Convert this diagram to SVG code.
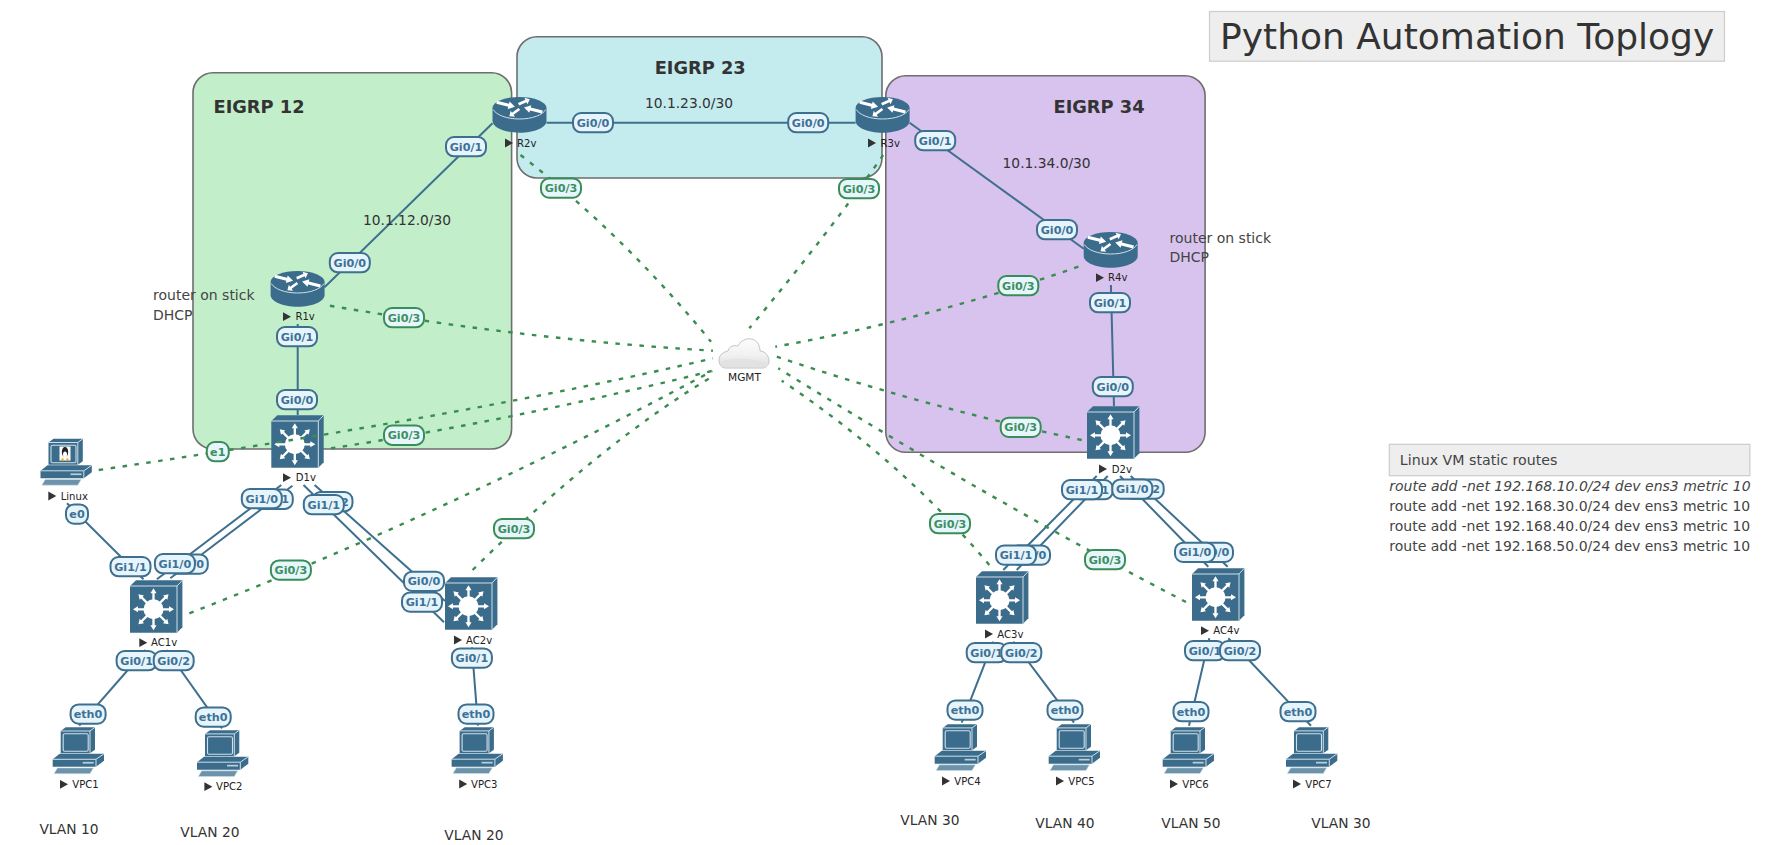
<svg xmlns="http://www.w3.org/2000/svg" width="1790" height="845" viewBox="0 0 1790 845">
<style>
text{font-family:"DejaVu Sans",sans-serif;fill:#333}
.region{stroke:#6e6e6e;stroke-width:1.6}
.solid{fill:none;stroke:#3e6f8e;stroke-width:2}
.dash{fill:none;stroke:#3a8c50;stroke-width:2.4;stroke-dasharray:4.5 7.5}
.pill{fill:#e6f4fc;stroke:#3e6f8e;stroke-width:2}
.pill.g{fill:#e6f6fb;stroke:#3a8c58}
.pt{font-size:11.2px;font-weight:bold;fill:#3e7196;text-anchor:middle}
.pt.g{fill:#3c8f62}
.nl{font-size:10.1px;fill:#222}
.t14{font-size:13.8px}
.t{font-size:14px;fill:#444}
.rt{font-size:17.8px;font-weight:bold}
.box{fill:#eee;stroke:#ccc;stroke-width:1.2}
.ic{fill:#3b6c8b}
.li{fill:none;stroke:#cfe0ea;stroke-width:1}
.w{fill:#fff}
</style>
<defs>
<linearGradient id="cg" x1="0" y1="0" x2="0" y2="1"><stop offset="0" stop-color="#fdfdfd"/><stop offset=".55" stop-color="#f1f1f1"/><stop offset="1" stop-color="#dcdcdc"/></linearGradient>
<path id="tri" d="M0,-4.4V4.4L8,0Z" fill="#333"/>
<path id="ar" d="M-7,-1.3H2.5V-3.4L7.5,0L2.5,3.4V1.3H-7Z" fill="#fff"/>
<g id="router">
<path class="ic" d="M0,11.5V24C0,30.5 12,35.7 27,35.7S54,30.5 54,24V11.5Z"/>
<ellipse class="ic" cx="27" cy="11" rx="27" ry="11"/>
<path class="li" d="M0.6,12.5C4,18 14,22 27,22S50,18 53.4,12.5"/>
<use href="#ar" transform="translate(13,7.5) rotate(14) scale(1.3,1.15)"/>
<use href="#ar" transform="translate(31.5,4.8) rotate(-24) scale(.85,1.05)"/>
<use href="#ar" transform="translate(41,12.8) rotate(194) scale(1.3,1.15)"/>
<use href="#ar" transform="translate(22,15.5) rotate(144) scale(.85,1.05)"/>
</g>
<g id="switch">
<path class="ic" d="M0,5.7L6,0H52.4V47L47,52.4H0Z"/>
<path class="li" d="M0,5.7H47V52.4M47,5.7L52.4,0"/>
<circle class="w" cx="23.5" cy="29" r="10"/>
<use href="#ar" transform="translate(36.5,29) scale(1,.9)"/>
<use href="#ar" transform="translate(10.5,29) rotate(180) scale(1,.9)"/>
<use href="#ar" transform="translate(23.5,15.5) rotate(-90) scale(1,.9)"/>
<use href="#ar" transform="translate(23.5,42.5) rotate(90) scale(1,.9)"/>
<use href="#ar" transform="translate(33.5,19) rotate(-45) scale(.95,.9)"/>
<use href="#ar" transform="translate(13.5,19) rotate(-135) scale(.95,.9)"/>
<use href="#ar" transform="translate(33.5,39) rotate(45) scale(.95,.9)"/>
<use href="#ar" transform="translate(13.5,39) rotate(135) scale(.95,.9)"/>
</g>
<g id="pc">
<path class="ic" d="M8,3.7L13,0H42.3V22.5L37.3,26H8Z"/>
<path class="li" d="M8,3.7H37.3V26M37.3,3.7L42.3,0"/>
<rect x="10.5" y="6.5" width="25" height="17.5" rx="1.5" fill="#3b6c8b" stroke="#cfe0ea" stroke-width="1.1"/>
<path class="ic" d="M0,32L7,26.5H51.3V33.5L43.3,39.5H0Z"/>
<path class="li" d="M0,32H43.3V39.5M43.3,32L51.3,26.5"/>
<rect x="30" y="34.6" width="11" height="1.7" fill="#b9cfdc"/>
<path d="M1.3,46.4L4.7,40.6H40.7L37.3,46.4Z" fill="#6d93aa" stroke="#cfe0ea" stroke-width=".6"/>
</g>
</defs>

<g id="regions">
<rect id="eigrp12" class="region" x="193" y="72.8" width="318.6" height="376.2" rx="20" fill="#c2efca"/>
<rect id="eigrp23" class="region" x="517" y="36.8" width="365" height="141.2" rx="20" fill="#c4ebee"/>
<rect id="eigrp34" class="region" x="885.8" y="75.8" width="319.3" height="376.5" rx="20" fill="#d8c2ee"/>
</g>

<g id="R1v"><use href="#router" x="270.6" y="271"/><use href="#tri" x="283" y="316.7"/><text class="nl" x="295.4" y="320.2">R1v</text></g>
<g id="R2v"><use href="#router" x="492.5" y="97"/><use href="#tri" x="505" y="143"/><text class="nl" x="517" y="146.5">R2v</text></g>
<g id="R3v"><use href="#router" x="855.6" y="97"/><use href="#tri" x="868" y="143"/><text class="nl" x="880.5" y="146.5">R3v</text></g>
<g id="R4v"><use href="#router" x="1083.7" y="232"/><use href="#tri" x="1096" y="277.7"/><text class="nl" x="1108" y="281.2">R4v</text></g>
<g id="D1v"><use href="#switch" x="271.3" y="415.3"/><use href="#tri" x="283" y="477.7"/><text class="nl" x="295.7" y="481.2">D1v</text></g>
<g id="D2v"><use href="#switch" x="1087" y="406.3"/><use href="#tri" x="1099" y="469"/><text class="nl" x="1111.7" y="472.5">D2v</text></g>
<g id="AC1v"><use href="#switch" x="130" y="580.3"/><use href="#tri" x="139.3" y="642.7"/><text class="nl" x="151" y="646.2">AC1v</text></g>
<g id="AC2v"><use href="#switch" x="445" y="577.3"/><use href="#tri" x="454" y="640"/><text class="nl" x="466" y="643.5">AC2v</text></g>
<g id="AC3v"><use href="#switch" x="976" y="571.3"/><use href="#tri" x="985" y="634"/><text class="nl" x="997.3" y="637.5">AC3v</text></g>
<g id="AC4v"><use href="#switch" x="1192" y="568.3"/><use href="#tri" x="1201" y="630.7"/><text class="nl" x="1213.3" y="634.2">AC4v</text></g>
<g id="Linux"><use href="#pc" x="40.5" y="438.8"/>
<rect x="59.5" y="446.5" width="11" height="14" fill="#fff"/>
<ellipse cx="65" cy="452" rx="3.2" ry="5" fill="#222"/><ellipse cx="65" cy="454.5" rx="2" ry="3" fill="#fff"/>
<path d="M60.5,460.5L63,457.5L64,460.5ZM69.5,460.5L67,457.5L66,460.5Z" fill="#f0b000"/>
<use href="#tri" x="48.3" y="496"/><text class="nl" x="60.7" y="499.5">Linux</text></g>
<g id="VPC1"><use href="#pc" x="52.7" y="727.3"/><use href="#tri" x="60" y="784.3"/><text class="nl" x="72.3" y="787.8">VPC1</text></g>
<g id="VPC2"><use href="#pc" x="197" y="730.2"/><use href="#tri" x="204.4" y="786.7"/><text class="nl" x="216" y="790.2">VPC2</text></g>
<g id="VPC3"><use href="#pc" x="451.6" y="727.2"/><use href="#tri" x="459.2" y="784"/><text class="nl" x="471" y="787.5">VPC3</text></g>
<g id="VPC4"><use href="#pc" x="934.7" y="724.2"/><use href="#tri" x="942" y="781"/><text class="nl" x="954.3" y="784.5">VPC4</text></g>
<g id="VPC5"><use href="#pc" x="1048.7" y="724.2"/><use href="#tri" x="1056" y="781"/><text class="nl" x="1068.3" y="784.5">VPC5</text></g>
<g id="VPC6"><use href="#pc" x="1162.7" y="727.2"/><use href="#tri" x="1170" y="784"/><text class="nl" x="1182.3" y="787.5">VPC6</text></g>
<g id="VPC7"><use href="#pc" x="1286" y="727.2"/><use href="#tri" x="1293" y="784"/><text class="nl" x="1305.3" y="787.5">VPC7</text></g>
<g id="MGMT"><g transform="translate(719,338)">
<path d="M7,30C2,30 0,26 0,22C0,17 4,14 9,13C10,8 15,7 19,8C22,2 28,0 32,1C38,2 41,7 41,13C46,13 50,18 50,23C50,27 47,30 44,30Z" fill="url(#cg)" stroke="#c4c4c4" stroke-width="1"/>
<path d="M1,24C14,19 36,20 49.5,26C49,28 47,29.5 44,29.5H7C3,29.5 1.5,27 1,24Z" fill="#e2e2e2"/>
</g><text x="744.5" y="380.5" font-size="10.6" text-anchor="middle" style="fill:#222">MGMT</text></g>

<g id="connectors">
<path class="solid" d="M324.5,287.3L492.5,123.3"/>
<path class="solid" d="M546.5,122.7H855.6"/>
<path class="solid" d="M909.6,122.7L1083.7,248.7"/>
<path class="solid" d="M297.7,324V415"/>
<path class="solid" d="M1110.9,285L1114,406"/>
<path class="solid" d="M281.3,485L156.9,579.3"/>
<path class="solid" d="M292.4,485.7L170.3,578.3"/>
<path class="solid" d="M303.5,485L444,622.3"/>
<path class="solid" d="M314.6,485L445,601"/>
<path class="solid" d="M67,503.3L143.5,579.3"/>
<path class="solid" d="M145.4,650L79.2,725.7"/>
<path class="solid" d="M166.5,650L222,728.3"/>
<path class="solid" d="M471.9,647.3L478,725.7"/>
<path class="solid" d="M1096.7,476L1003.3,570"/>
<path class="solid" d="M1107.7,476L1016.7,570"/>
<path class="solid" d="M1120,476L1208.3,566.7"/>
<path class="solid" d="M1130.7,476L1227.7,566.7"/>
<path class="solid" d="M993.3,641.7L961.7,722.7"/>
<path class="solid" d="M1013.3,641.7L1074,722.7"/>
<path class="solid" d="M1209.3,638.3L1189,725.7"/>
<path class="solid" d="M1228.3,638.3L1311,725.7"/>
<path class="dash" d="M520.5,155Q625,236 711,341.7"/>
<path class="dash" d="M883.2,155Q828,234 749.3,328.3"/>
<path class="dash" d="M329.9,305.7Q530,340 712.9,350.7"/>
<path class="dash" d="M1078.4,266.7Q929,319 775.3,346.7"/>
<path class="dash" d="M1081.7,440Q925,407 776.8,356.7"/>
<path class="dash" d="M1186,602Q995,503 778.3,368.3"/>
<path class="dash" d="M989.3,565Q904,463 781.7,380.7"/>
<path class="dash" d="M98.7,470Q477,414 712.9,358.3"/>
<path class="dash" d="M331,448.3Q505,422 712.9,370.7"/>
<path class="dash" d="M189.4,613.3Q450,512 712.3,371"/>
<path class="dash" d="M472.6,570Q601,443 712,376.7"/>
</g>

<g id="port-labels">
<rect class="pill" x="446" y="137" width="40" height="19.3" rx="8"/><text class="pt" x="466" y="150.7">Gi0/1</text>
<rect class="pill" x="329.8" y="253" width="40" height="19.3" rx="8"/><text class="pt" x="349.8" y="266.7">Gi0/0</text>
<rect class="pill g" x="384" y="308" width="40" height="19.3" rx="8"/><text class="pt g" x="404" y="321.7">Gi0/3</text>
<rect class="pill" x="277" y="327" width="40" height="19.3" rx="8"/><text class="pt" x="297" y="340.7">Gi0/1</text>
<rect class="pill" x="277" y="390" width="40" height="19.3" rx="8"/><text class="pt" x="297" y="403.7">Gi0/0</text>
<rect class="pill" x="573" y="113" width="40" height="19.3" rx="8"/><text class="pt" x="593" y="126.7">Gi0/0</text>
<rect class="pill g" x="541" y="178.4" width="40" height="19.3" rx="8"/><text class="pt g" x="561" y="192">Gi0/3</text>
<rect class="pill" x="788.2" y="113" width="40" height="19.3" rx="8"/><text class="pt" x="808.2" y="126.7">Gi0/0</text>
<rect class="pill" x="915.2" y="131" width="40" height="19.3" rx="8"/><text class="pt" x="935.2" y="144.7">Gi0/1</text>
<rect class="pill g" x="839" y="179" width="40" height="19.3" rx="8"/><text class="pt g" x="859" y="192.7">Gi0/3</text>
<rect class="pill" x="1037" y="220" width="40" height="19.3" rx="8"/><text class="pt" x="1057" y="233.7">Gi0/0</text>
<rect class="pill g" x="998.3" y="276" width="40" height="19.3" rx="8"/><text class="pt g" x="1018.3" y="289.7">Gi0/3</text>
<rect class="pill" x="1090" y="293" width="40" height="19.3" rx="8"/><text class="pt" x="1110" y="306.7">Gi0/1</text>
<rect class="pill" x="1092.8" y="377" width="40" height="19.3" rx="8"/><text class="pt" x="1112.8" y="390.7">Gi0/0</text>
<rect class="pill g" x="1000.7" y="417.7" width="40" height="19.3" rx="8"/><text class="pt g" x="1020.7" y="431.3">Gi0/3</text>
<rect class="pill g" x="206.8" y="442" width="22" height="19.3" rx="8"/><text class="pt g" x="217.8" y="455.7">e1</text>
<rect class="pill g" x="384" y="425.6" width="40" height="19.3" rx="8"/><text class="pt g" x="404" y="439.3">Gi0/3</text>
<rect class="pill" x="66" y="504.4" width="22" height="19.3" rx="8"/><text class="pt" x="77" y="518">e0</text>
<rect class="pill" x="252.8" y="489.6" width="40" height="19.3" rx="8"/><text class="pt" x="272.8" y="503.3">Gi0/1</text>
<rect class="pill" x="241.8" y="489" width="40" height="19.3" rx="8"/><text class="pt" x="261.8" y="502.7">Gi1/0</text>
<rect class="pill" x="312.5" y="492" width="40" height="19.3" rx="8"/><text class="pt" x="332.5" y="505.7">Gi0/2</text>
<rect class="pill" x="303.8" y="495" width="40" height="19.3" rx="8"/><text class="pt" x="323.8" y="508.7">Gi1/1</text>
<rect class="pill" x="110.5" y="557" width="40" height="19.3" rx="8"/><text class="pt" x="130.5" y="570.7">Gi1/1</text>
<rect class="pill" x="167.8" y="554.4" width="40" height="19.3" rx="8"/><text class="pt" x="187.8" y="568">Gi0/0</text>
<rect class="pill" x="154.9" y="554" width="40" height="19.3" rx="8"/><text class="pt" x="174.9" y="567.7">Gi1/0</text>
<rect class="pill g" x="270.9" y="560.4" width="40" height="19.3" rx="8"/><text class="pt g" x="290.9" y="574">Gi0/3</text>
<rect class="pill" x="404" y="571.7" width="40" height="19.3" rx="8"/><text class="pt" x="424" y="585.3">Gi0/0</text>
<rect class="pill" x="402" y="592.4" width="40" height="19.3" rx="8"/><text class="pt" x="422" y="606">Gi1/1</text>
<rect class="pill g" x="494" y="519" width="40" height="19.3" rx="8"/><text class="pt g" x="514" y="532.7">Gi0/3</text>
<rect class="pill" x="116.6" y="651" width="40" height="19.3" rx="8"/><text class="pt" x="136.6" y="664.7">Gi0/1</text>
<rect class="pill" x="153.7" y="651" width="40" height="19.3" rx="8"/><text class="pt" x="173.7" y="664.7">Gi0/2</text>
<rect class="pill" x="70.6" y="704.4" width="35" height="19.3" rx="8"/><text class="pt" x="88" y="718">eth0</text>
<rect class="pill" x="195.7" y="707.4" width="35" height="19.3" rx="8"/><text class="pt" x="213.2" y="721">eth0</text>
<rect class="pill" x="451.9" y="648.4" width="40" height="19.3" rx="8"/><text class="pt" x="471.9" y="662">Gi0/1</text>
<rect class="pill" x="458.5" y="704.4" width="35" height="19.3" rx="8"/><text class="pt" x="476" y="718">eth0</text>
<rect class="pill" x="1072.7" y="480" width="40" height="19.3" rx="8"/><text class="pt" x="1092.7" y="493.7">Gi0/1</text>
<rect class="pill" x="1062" y="480" width="40" height="19.3" rx="8"/><text class="pt" x="1082" y="493.7">Gi1/1</text>
<rect class="pill" x="1123.7" y="479.4" width="40" height="19.3" rx="8"/><text class="pt" x="1143.7" y="493">Gi0/2</text>
<rect class="pill" x="1112.3" y="479.4" width="40" height="19.3" rx="8"/><text class="pt" x="1132.3" y="493">Gi1/0</text>
<rect class="pill" x="1010" y="545.4" width="40" height="19.3" rx="8"/><text class="pt" x="1030" y="559">Gi0/0</text>
<rect class="pill" x="996" y="545.4" width="40" height="19.3" rx="8"/><text class="pt" x="1016" y="559">Gi1/1</text>
<rect class="pill" x="1193" y="542.7" width="40" height="19.3" rx="8"/><text class="pt" x="1213" y="556.3">Gi0/0</text>
<rect class="pill" x="1175" y="542.7" width="40" height="19.3" rx="8"/><text class="pt" x="1195" y="556.3">Gi1/0</text>
<rect class="pill g" x="930" y="514" width="40" height="19.3" rx="8"/><text class="pt g" x="950" y="527.7">Gi0/3</text>
<rect class="pill g" x="1085" y="550" width="40" height="19.3" rx="8"/><text class="pt g" x="1105" y="563.7">Gi0/3</text>
<rect class="pill" x="966.7" y="643" width="40" height="19.3" rx="8"/><text class="pt" x="986.7" y="656.7">Gi0/1</text>
<rect class="pill" x="1001.3" y="643" width="40" height="19.3" rx="8"/><text class="pt" x="1021.3" y="656.7">Gi0/2</text>
<rect class="pill" x="1185" y="641" width="40" height="19.3" rx="8"/><text class="pt" x="1205" y="654.7">Gi0/1</text>
<rect class="pill" x="1220" y="641" width="40" height="19.3" rx="8"/><text class="pt" x="1240" y="654.7">Gi0/2</text>
<rect class="pill" x="947.5" y="700.4" width="35" height="19.3" rx="8"/><text class="pt" x="965" y="714">eth0</text>
<rect class="pill" x="1047.5" y="700.4" width="35" height="19.3" rx="8"/><text class="pt" x="1065" y="714">eth0</text>
<rect class="pill" x="1173.5" y="702" width="35" height="19.3" rx="8"/><text class="pt" x="1191" y="715.7">eth0</text>
<rect class="pill" x="1280.5" y="702" width="35" height="19.3" rx="8"/><text class="pt" x="1298" y="715.7">eth0</text>
</g>

<g id="annotations">
<rect class="box" x="1209.5" y="11.5" width="515" height="49.7"/>
<text x="1220" y="49" font-size="36">Python Automation Toplogy</text>
<rect class="box" x="1389.3" y="444.3" width="360.6" height="31.4"/>
<text x="1399.8" y="465" font-size="14.2" style="fill:#444">Linux VM static routes</text>
<text x="1389.3" y="491" font-size="14" font-style="italic" style="fill:#444">route add -net 192.168.10.0/24 dev ens3 metric 10</text>
<text x="1389.3" y="511" font-size="14" style="fill:#444">route add -net 192.168.30.0/24 dev ens3 metric 10</text>
<text x="1389.3" y="531" font-size="14" style="fill:#444">route add -net 192.168.40.0/24 dev ens3 metric 10</text>
<text x="1389.3" y="551" font-size="14" style="fill:#444">route add -net 192.168.50.0/24 dev ens3 metric 10</text>
<text class="rt" x="213.5" y="113">EIGRP 12</text>
<text class="rt" x="654.7" y="73.7">EIGRP 23</text>
<text class="rt" x="1053.5" y="113">EIGRP 34</text>
<text class="t14" x="363" y="225">10.1.12.0/30</text>
<text class="t14" x="645" y="108">10.1.23.0/30</text>
<text class="t14" x="1002.6" y="168">10.1.34.0/30</text>
<text class="t" x="153" y="300">router on stick</text>
<text class="t" x="153" y="320">DHCP</text>
<text class="t" x="1169.5" y="243">router on stick</text>
<text class="t" x="1169.5" y="262">DHCP</text>
<text class="t14" x="39.4" y="834">VLAN 10</text>
<text class="t14" x="180.3" y="837">VLAN 20</text>
<text class="t14" x="444.3" y="840">VLAN 20</text>
<text class="t14" x="900.3" y="825">VLAN 30</text>
<text class="t14" x="1035.3" y="828">VLAN 40</text>
<text class="t14" x="1161.3" y="828">VLAN 50</text>
<text class="t14" x="1311.3" y="828">VLAN 30</text>
</g>
</svg>
